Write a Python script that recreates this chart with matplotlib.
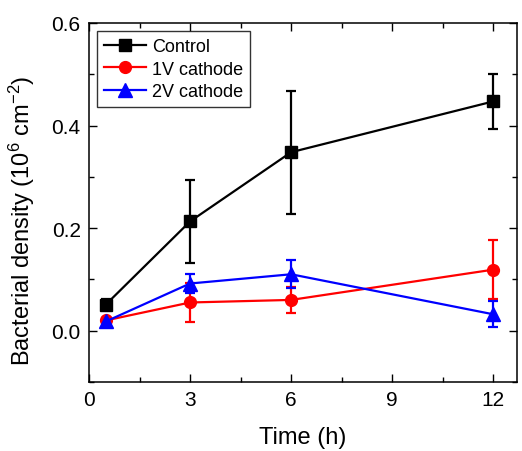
import matplotlib
matplotlib.use('Agg')
import matplotlib.pyplot as plt
from matplotlib.lines import Line2D
from matplotlib.ticker import MultipleLocator

plt.rcParams['font.family'] = ['Liberation Sans', 'DejaVu Sans']
plt.rcParams['mathtext.fontset'] = 'custom'
plt.rcParams['mathtext.rm'] = 'Liberation Sans'
plt.rcParams['mathtext.default'] = 'regular'

time_h = [0.5, 3, 6, 12]

control = [0.051, 0.213, 0.348, 0.447]
control_err = [0.011, 0.081, 0.120, 0.054]

cathode_1v = [0.020, 0.055, 0.060, 0.119]
cathode_1v_err = [0.005, 0.038, 0.025, 0.058]

cathode_2v = [0.018, 0.092, 0.110, 0.032]
cathode_2v_err = [0.005, 0.018, 0.027, 0.025]

series = [
    ('Control', control, control_err, 'black', 's', 8),
    ('1V cathode', cathode_1v, cathode_1v_err, 'red', 'o', 8.5),
    ('2V cathode', cathode_2v, cathode_2v_err, 'blue', '^', 9.5),
]

fig = plt.figure(figsize=(5.22, 4.52), dpi=100)
ax = fig.add_axes([0.1705, 0.1527, 0.8195, 0.7943])

handles = []
for name, y, err, col, mk, ms in series:
    ax.errorbar(time_h, y, yerr=err, color=col, marker=mk, ms=ms, lw=1.6,
                capsize=3.5, elinewidth=1.6, capthick=1.6)
    handles.append(Line2D([], [], color=col, marker=mk, ms=ms, lw=1.6, label=name))

ax.set_xlim(0, 12.7)
ax.set_ylim(-0.1, 0.6)
ax.xaxis.set_major_locator(MultipleLocator(3))
ax.xaxis.set_minor_locator(MultipleLocator(1.5))
ax.set_yticks([0.0, 0.2, 0.4, 0.6])
ax.set_yticklabels(['0.0', '0.2', '0.4', '0.6'])
ax.yaxis.set_minor_locator(MultipleLocator(0.1))
ax.tick_params(which='both', direction='in', top=True, right=True, width=1)
ax.tick_params(which='major', length=6, labelsize=15, pad=6)
ax.tick_params(which='minor', length=3.5)
for s in ax.spines.values():
    s.set_linewidth(1.1)

ax.set_xlabel('Time (h)', fontsize=17, labelpad=12)
ax.set_ylabel('Bacterial density (10$^{6}$ cm$^{-2}$)', fontsize=17)
ax.yaxis.set_label_coords(-0.122, 0.451)

leg = ax.legend(handles=handles, loc='upper left', fontsize=13, frameon=True,
                fancybox=False, handlelength=2.3, borderpad=0.4,
                labelspacing=0.3, handletextpad=0.33, borderaxespad=0.45)
leg.get_frame().set_edgecolor('black')
leg.get_frame().set_linewidth(1.0)

fig.savefig('out.png', dpi=100)
